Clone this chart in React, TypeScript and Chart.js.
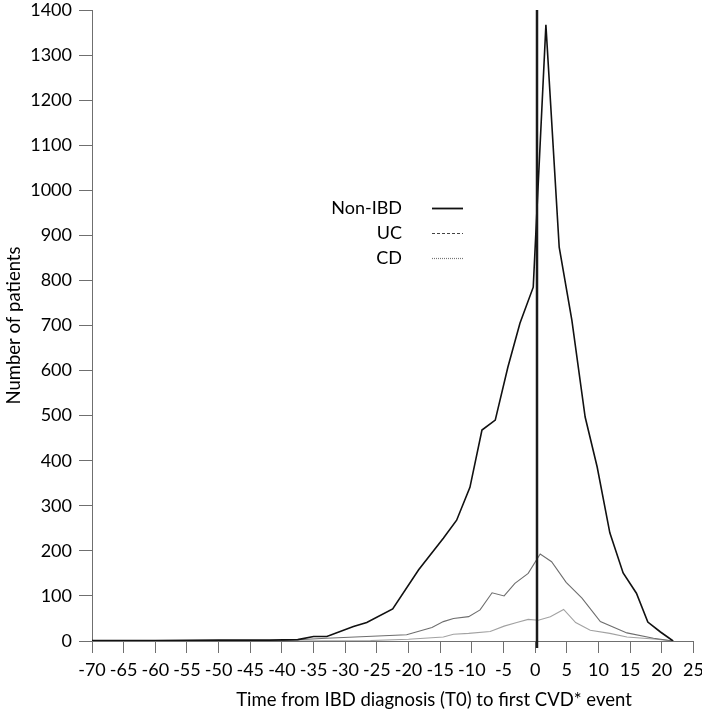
import React, { useEffect, useRef } from "react";
import { Chart, registerables } from "chart.js";

Chart.register(...registerables);

// Axis ranges
const xMin = -70;
const xMax = 25;
const xStep = 5;
const yMin = 0;
const yMax = 1400;
const yStep = 100;

// Series (years from IBD diagnosis, number of patients)
const nonIbdYears = [-70, -60, -50, -42, -37.5, -35, -32.9, -28.7, -26.6, -22.5, -18.4, -14.5, -12.4, -10.3, -8.4, -6.3, -4.3, -2.4, -0.3, 1.7, 3.8, 5.8, 7.9, 9.8, 11.8, 13.9, 16.0, 17.8, 19.8, 21.8];
const nonIbdPatients = [1, 1, 2, 2, 3, 10, 10, 32, 41, 71, 158, 228, 268, 341, 468, 490, 608, 705, 785, 1367, 874, 712, 497, 386, 240, 151, 106, 42, 20, 0];

const ucYears = [-70, -40, -36, -33, -20.3, -16.3, -14.5, -12.9, -10.5, -8.7, -6.8, -4.9, -3.2, -1.1, 0.8, 2.6, 4.9, 7.4, 10.3, 14.5, 18.7, 21.8];
const ucPatients = [0, 1, 4, 6, 14, 30, 43, 50, 54, 69, 107, 100, 128, 150, 193, 176, 130, 95, 43, 18, 6, 0];

const cdYears = [-70, -40, -26, -20, -14.5, -12.9, -10.5, -7.1, -4.9, -2.9, -1.1, 0.5, 2.4, 4.5, 6.4, 8.7, 11.8, 14.5, 19.2, 21.8];
const cdPatients = [0, 0, 1, 4, 9, 15, 17, 21, 33, 41, 48, 46, 54, 70, 41, 24, 17, 9, 4, 0];

const seriesNames = ["Non-IBD", "UC", "CD"];
const xTitle = "Time from IBD diagnosis (T0) to first CVD* event";
const yTitle = "Number of patients";
const t0Marker = 0.35;

const FONT = "Lato, 'Open Sans', sans-serif";

const toPoints = (xs: number[], ys: number[]) => xs.map((x, i) => ({ x, y: ys[i] }));

const legendStyles = [
  { color: "#111111", width: 1.8, dash: [] as number[] },
  { color: "#444444", width: 1.2, dash: [3, 2] },
  { color: "#777777", width: 1.2, dash: [1, 1] },
];

const overlayPlugin = {
  id: "overlay",
  afterDatasetsDraw(chart: any) {
    const { ctx, scales } = chart;
    const xs = scales.x;
    const ys = scales.y;
    ctx.save();
    // T0 vertical marker
    const px = Math.round(xs.getPixelForValue(t0Marker));
    ctx.strokeStyle = "#1a1a1a";
    ctx.lineWidth = 2.5;
    ctx.beginPath();
    ctx.moveTo(px, ys.getPixelForValue(yMax));
    ctx.lineTo(px, ys.bottom + 7);
    ctx.stroke();

    // Legend
    ctx.font = `18px ${FONT}`;
    ctx.fillStyle = "#000";
    ctx.textAlign = "right";
    ctx.textBaseline = "middle";
    seriesNames.forEach((name, i) => {
      const yy = 208 + i * 25;
      ctx.fillText(name, 402, yy);
      const st = legendStyles[i];
      ctx.strokeStyle = st.color;
      ctx.lineWidth = st.width;
      ctx.setLineDash(st.dash);
      ctx.beginPath();
      ctx.moveTo(432, yy + 0.5);
      ctx.lineTo(463, yy + 0.5);
      ctx.stroke();
      ctx.setLineDash([]);
    });

    // X axis title
    ctx.font = `18.5px ${FONT}`;
    ctx.textAlign = "center";
    ctx.fillStyle = "#000";
    ctx.fillText(xTitle, 434, 700);
    ctx.restore();
  },
};

export default function App() {
  const canvasRef = useRef<HTMLCanvasElement | null>(null);

  useEffect(() => {
    const canvas = canvasRef.current;
    if (!canvas) return;
    const chart = new Chart(canvas, {
      type: "scatter",
      data: {
        datasets: [
          {
            label: seriesNames[0],
            data: toPoints(nonIbdYears, nonIbdPatients),
            showLine: true,
            borderColor: "#111111",
            borderWidth: 1.6,
            pointRadius: 0,
            tension: 0,
          },
          {
            label: seriesNames[1],
            data: toPoints(ucYears, ucPatients),
            showLine: true,
            borderColor: "#6e6e6e",
            borderWidth: 1.1,
            pointRadius: 0,
            tension: 0,
          },
          {
            label: seriesNames[2],
            data: toPoints(cdYears, cdPatients),
            showLine: true,
            borderColor: "#a2a2a2",
            borderWidth: 1.1,
            pointRadius: 0,
            tension: 0,
          },
        ],
      },
      options: {
        animation: false,
        responsive: false,
        maintainAspectRatio: false,
        devicePixelRatio: 1,
        events: [],
        layout: { padding: { top: 10, right: 8.6, bottom: 0, left: 0 } },
        plugins: {
          legend: { display: false },
          tooltip: { enabled: false },
        },
        scales: {
          x: {
            type: "linear",
            min: xMin,
            max: xMax,
            ticks: {
              stepSize: xStep,
              color: "#000",
              font: { family: FONT, size: 18 },
              padding: 6,
              maxRotation: 0,
              autoSkip: false,
              callback: (v: any) => String(v),
            },
            grid: {
              display: true,
              drawOnChartArea: false,
              drawTicks: true,
              tickLength: 12,
              color: "#6f6f6f",
              lineWidth: 1,
            },
            border: { display: true, color: "#6f6f6f", width: 1 },
            title: { display: false },
            afterFit: (s: any) => {
              s.height = 84;
              s.paddingLeft = 0;
              s.paddingRight = 0;
            },
          },
          y: {
            type: "linear",
            min: yMin,
            max: yMax,
            ticks: {
              stepSize: yStep,
              color: "#000",
              font: { family: FONT, size: 18 },
              padding: 7,
              callback: (v: any) => String(v),
            },
            grid: {
              display: true,
              drawOnChartArea: false,
              drawTicks: true,
              tickLength: 13,
              color: "#6f6f6f",
              lineWidth: 1,
            },
            border: { display: true, color: "#6f6f6f", width: 1 },
            title: {
              display: true,
              text: yTitle,
              color: "#000",
              font: { family: FONT, size: 18.5 },
              padding: { top: 3, bottom: 0 },
            },
            afterFit: (s: any) => {
              s.width = 92;
              s.paddingTop = 0;
              s.paddingBottom = 0;
            },
          },
        },
      },
      plugins: [overlayPlugin],
    } as any);
    return () => chart.destroy();
  }, []);

  return (
    <div style={{ position: "fixed", left: 0, top: 0, width: 702, height: 725, background: "#fff" }}>
      <canvas ref={canvasRef} width={702} height={725} style={{ width: 702, height: 725, display: "block" }} />
    </div>
  );
}
